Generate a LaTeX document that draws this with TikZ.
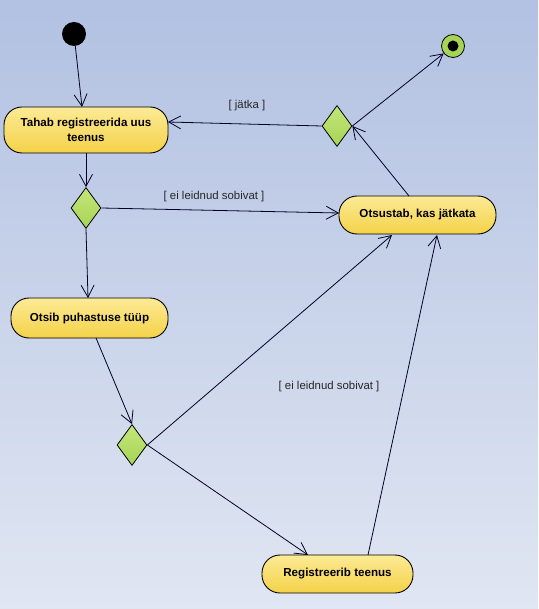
\documentclass[tikz,border=0pt]{standalone}
\usepackage{fontspec}
\setmainfont{Liberation Sans}
\usetikzlibrary{arrows.meta,shapes.geometric,shadows}
\definecolor{bgtop}{RGB}{178,193,226}
\definecolor{bgbot}{RGB}{224,230,242}
\definecolor{acttop}{RGB}{252,234,150}
\definecolor{actbot}{RGB}{244,210,72}
\definecolor{dgreen}{RGB}{166,212,86}
\definecolor{dgreenl}{RGB}{196,230,120}
\begin{document}
\begin{tikzpicture}[x=1pt,y=-1pt,
  actbox/.style={draw=black,line width=0.9pt,rounded corners=18pt,top color=acttop,bottom color=actbot,
    minimum height=#1,align=center,font=\bfseries\fontsize{11.6}{15}\selectfont,inner sep=2pt},
  actbox/.default=40pt,
  decis/.style={diamond,draw=black,line width=0.8pt,top color=dgreenl,bottom color=dgreen,
    minimum width=30pt,minimum height=41pt,inner sep=0pt,aspect=0.73},
  flow/.style={draw=black!85!blue,line width=0.8pt,-{Straight Barb[length=12pt,width=13pt,line width=0.8pt]}},
  guard/.style={font=\fontsize{11.4}{13}\selectfont,text=black!85}
]
\fill[top color=bgtop,bottom color=bgbot] (0,0) rectangle (538,609);
\useasboundingbox (0,0) rectangle (538,609);

\node[circle,fill=black,minimum size=24pt,inner sep=0pt] (start) at (74,34) {};
\node[circle,draw=black,line width=0.8pt,fill=dgreen,minimum size=23pt,inner sep=0pt] (end) at (453,46) {};
\node[circle,fill=black,minimum size=11pt,inner sep=0pt] (endin) at (453,46) {};

\node[actbox=46pt,minimum width=164pt] (tahab) at (86,130) {Tahab registreerida uus\\teenus};
\node[actbox=38pt,minimum width=157pt] (otsustab) at (417.5,215) {Otsustab, kas jätkata};
\node[actbox=40pt,minimum width=157pt] (otsib) at (89.5,318) {Otsib puhastuse tüüp};
\node[actbox=38pt,minimum width=151pt] (reg) at (337.5,574) {Registreerib teenus};

\node[decis] (d1) at (86,208) {};
\node[decis] (d2) at (337,126) {};
\node[decis] (d3) at (132,445) {};

\coordinate (tahabtop) at (82,107);
\coordinate (tahabbot) at (86,153);
\draw[flow] (start) -- (tahabtop);
\draw[flow] (tahabbot) -- (d1.north);
\draw[flow] (d1.east) -- (339,213) coordinate (otsL);
\node[guard] (g1) at (214,197) {[ ei leidnud sobivat ]};
\draw[flow] (d1.south) -- (88,298) coordinate (otsibtop);
\draw[flow] (96,338) coordinate (otsibbot) -- (d3.north);
\draw[flow] (d3.east) -- (392,235) coordinate (otsB1);
\draw[flow] (d3.east) -- (308,555) coordinate (regT1);
\draw[flow] (368,555) coordinate (regT2) -- (437,235) coordinate (otsB2);
\node[guard] (g2) at (329,387) {[ ei leidnud sobivat ]};
\draw[flow] (409,196) coordinate (otsT) -- (d2.east);
\draw[flow] (d2.east) -- (end);
\draw[flow] (d2.west) -- (168,122) coordinate (tahabR);
\node[guard] (g3) at (247,106) {[ jätka ]};
\end{tikzpicture}
\end{document}
